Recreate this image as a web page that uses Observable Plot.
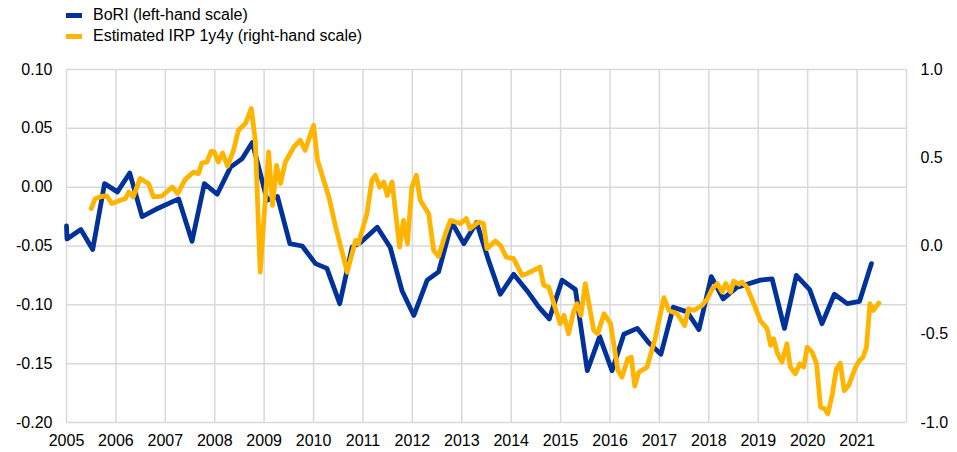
<!DOCTYPE html>
<html>
<head>
<meta charset="utf-8">
<script src="https://cdn.jsdelivr.net/npm/d3@7"></script>
<script src="https://cdn.jsdelivr.net/npm/@observablehq/plot@0.6"></script>
<style>
  html, body { margin: 0; padding: 0; background: #fff; }
  body { width: 957px; height: 452px; overflow: hidden; font-family: "Liberation Sans", Arial, sans-serif; color: #000; }
  #legend { position: relative; height: 50px; width: 957px; }
  .item { position: absolute; left: 66px; font-size: 16px; line-height: 20px; white-space: nowrap; }
  .sw { position: absolute; left: 0; top: 8px; width: 16px; height: 5px; }
  .lab { position: absolute; left: 27px; top: 0; }
</style>
</head>
<body>
<div id="legend"></div>
<div id="chart"></div>
<script>
// ---- data ----
const seriesNames = ["BoRI (left-hand scale)", "Estimated IRP 1y4y (right-hand scale)"];
const seriesColors = ["#003299", "#FFB400"];

const boriDates = [2005.00, 2005.01, 2005.29, 2005.53, 2005.77, 2006.03, 2006.28, 2006.53, 2006.80, 2007.27,
  2007.54, 2007.79, 2008.05, 2008.32, 2008.55, 2008.76, 2009.06, 2009.27, 2009.52, 2009.77,
  2010.04, 2010.27, 2010.53, 2010.78, 2010.95, 2011.29, 2011.55, 2011.79, 2012.03, 2012.30,
  2012.53, 2012.80, 2013.04, 2013.30, 2013.54, 2013.78, 2014.05, 2014.32, 2014.56, 2014.77,
  2015.03, 2015.30, 2015.54, 2015.79, 2016.04, 2016.28, 2016.55, 2016.78, 2017.03, 2017.28,
  2017.56, 2017.80, 2018.05, 2018.29, 2018.57, 2018.74, 2019.04, 2019.28, 2019.53, 2019.77,
  2020.04, 2020.29, 2020.54, 2020.80, 2021.05, 2021.29];
const boriValues = [-0.033, -0.044, -0.036, -0.053, 0.003, -0.004, 0.012, -0.025, -0.019, -0.010,
  -0.046, 0.003, -0.006, 0.017, 0.024, 0.038, -0.011, -0.008, -0.048, -0.050,
  -0.065, -0.069, -0.099, -0.051, -0.047, -0.034, -0.051, -0.088, -0.109, -0.079,
  -0.072, -0.030, -0.048, -0.030, -0.062, -0.091, -0.074, -0.088, -0.102, -0.112,
  -0.079, -0.087, -0.156, -0.127, -0.156, -0.125, -0.120, -0.132, -0.142, -0.102,
  -0.106, -0.121, -0.076, -0.095, -0.085, -0.083, -0.079, -0.078, -0.120, -0.075,
  -0.087, -0.116, -0.091, -0.099, -0.097, -0.065];

const irpDates = [2005.50, 2005.58, 2005.72, 2005.82, 2005.92, 2006.09, 2006.19, 2006.26, 2006.35, 2006.49,
  2006.66, 2006.76, 2006.93, 2007.14, 2007.25, 2007.40, 2007.57, 2007.67, 2007.74, 2007.84,
  2007.93, 2007.99, 2008.07, 2008.16, 2008.26, 2008.38, 2008.48, 2008.62, 2008.74, 2008.82,
  2008.92, 2009.09, 2009.17, 2009.25, 2009.33, 2009.43, 2009.60, 2009.73, 2009.83, 2010.00,
  2010.08, 2010.31, 2010.44, 2010.68, 2010.85, 2010.91, 2011.08, 2011.18, 2011.25, 2011.34,
  2011.42, 2011.49, 2011.59, 2011.74, 2011.82, 2011.90, 2011.99, 2012.08, 2012.16, 2012.33,
  2012.43, 2012.53, 2012.67, 2012.77, 2012.97, 2013.09, 2013.17, 2013.34, 2013.44, 2013.51,
  2013.68, 2013.78, 2013.90, 2014.05, 2014.22, 2014.32, 2014.52, 2014.58, 2014.66, 2014.76,
  2014.99, 2015.07, 2015.16, 2015.26, 2015.33, 2015.41, 2015.50, 2015.67, 2015.75, 2015.88,
  2016.01, 2016.16, 2016.24, 2016.36, 2016.43, 2016.50, 2016.58, 2016.75, 2016.92, 2017.09,
  2017.19, 2017.36, 2017.51, 2017.59, 2017.69, 2017.86, 2017.97, 2018.07, 2018.17, 2018.27,
  2018.34, 2018.44, 2018.50, 2018.61, 2018.67, 2018.77, 2018.91, 2019.04, 2019.18, 2019.25,
  2019.31, 2019.39, 2019.48, 2019.58, 2019.65, 2019.75, 2019.84, 2019.92, 2019.99, 2020.09,
  2020.18, 2020.26, 2020.34, 2020.41, 2020.50, 2020.58, 2020.66, 2020.74, 2020.83, 2020.97,
  2021.05, 2021.12, 2021.19, 2021.26, 2021.33, 2021.44];
const irpValues = [0.212, 0.268, 0.282, 0.282, 0.240, 0.259, 0.268, 0.306, 0.278, 0.382,
  0.354, 0.278, 0.282, 0.334, 0.297, 0.376, 0.419, 0.410, 0.470, 0.476,
  0.537, 0.533, 0.476, 0.527, 0.452, 0.542, 0.656, 0.694, 0.779, 0.599,
  -0.148, 0.533, 0.230, 0.457, 0.354, 0.476, 0.561, 0.599, 0.542, 0.684,
  0.486, 0.278, 0.117, -0.148, 0.032, 0.013, 0.183, 0.372, 0.401, 0.334,
  0.363, 0.287, 0.363, -0.006, 0.145, 0.013, 0.334, 0.401, 0.259, 0.183,
  -0.025, -0.059, 0.070, 0.145, 0.127, 0.155, 0.098, 0.136, 0.127, -0.015,
  0.028, 0.004, -0.063, -0.072, -0.166, -0.157, -0.128, -0.119, -0.223, -0.233,
  -0.440, -0.393, -0.497, -0.375, -0.327, -0.393, -0.213, -0.478, -0.497, -0.384,
  -0.440, -0.705, -0.743, -0.639, -0.630, -0.794, -0.715, -0.686, -0.516, -0.293,
  -0.365, -0.384, -0.450, -0.355, -0.365, -0.337, -0.299, -0.242, -0.213, -0.261,
  -0.213, -0.261, -0.199, -0.217, -0.204, -0.233, -0.327, -0.422, -0.469, -0.563,
  -0.525, -0.610, -0.658, -0.554, -0.686, -0.724, -0.667, -0.686, -0.573, -0.601,
  -0.667, -0.913, -0.922, -0.951, -0.837, -0.696, -0.664, -0.819, -0.790, -0.686,
  -0.648, -0.630, -0.573, -0.327, -0.365, -0.323];

const yearTicks = [2005, 2006, 2007, 2008, 2009, 2010, 2011, 2012, 2013, 2014, 2015, 2016, 2017, 2018, 2019, 2020, 2021];
const yearGrid = [2005, 2006, 2007, 2008, 2009, 2010, 2011, 2012, 2013, 2014, 2015, 2016, 2017, 2018, 2019, 2020, 2021, 2022];
const leftTicks = [-0.20, -0.15, -0.10, -0.05, 0.00, 0.05, 0.10];
const rightTicks = [-1.0, -0.5, 0.0, 0.5, 1.0];

// ---- right-hand scale mapped onto the left-hand scale ----
const toLeft = r => (r - 1 / 3) * 0.15;
const fromLeft = l => l / 0.15 + 1 / 3;

const bori = boriDates.map((d, i) => ({date: d, value: boriValues[i]}));
const irp = irpDates.map((d, i) => ({date: d, value: irpValues[i]}));

// legend
const legend = document.getElementById("legend");
seriesNames.forEach((name, i) => {
  const item = document.createElement("div");
  item.className = "item";
  item.style.top = (5 + i * 21) + "px";
  item.innerHTML = `<span class="sw" style="background:${seriesColors[i]}"></span><span class="lab"></span>`;
  item.querySelector(".lab").textContent = name;
  legend.appendChild(item);
});

const fmtRight = d => {
  const v = Math.round(fromLeft(d) * 10) / 10;
  return v.toFixed(1);
};

const chart = Plot.plot({
  width: 957,
  height: 402,
  marginTop: 19,
  marginBottom: 30,
  marginLeft: 66,
  marginRight: 51,
  x: {domain: [2005, 2022]},
  y: {domain: [-0.2, 0.1]},
  style: {fontFamily: "'Liberation Sans', Arial, sans-serif", fontSize: "16px", color: "#000", background: "#fff"},
  marks: [
    Plot.gridX(yearGrid, {stroke: "#d9d9d9", strokeOpacity: 1, strokeWidth: 1.5}),
    Plot.gridY(leftTicks, {stroke: "#d9d9d9", strokeOpacity: 1, strokeWidth: 1.5}),
    Plot.axisX(yearTicks, {tickSize: 0, tickPadding: 12, tickFormat: d => String(d), fontSize: 16, label: null}),
    Plot.axisY(leftTicks, {tickSize: 0, tickPadding: 14, tickFormat: d => d.toFixed(2), fontSize: 16, label: null}),
    Plot.axisY(rightTicks.map(toLeft), {anchor: "right", tickSize: 0, tickPadding: 14, tickFormat: fmtRight, fontSize: 16, label: null}),
    Plot.line(bori, {x: "date", y: "value", stroke: seriesColors[0], strokeWidth: 4.8, strokeLinejoin: "round", strokeLinecap: "round"}),
    Plot.line(irp, {x: "date", y: d => toLeft(d.value), stroke: seriesColors[1], strokeWidth: 4.8, strokeLinejoin: "round", strokeLinecap: "round"})
  ]
});
document.getElementById("chart").appendChild(chart);
</script>
</body>
</html>
